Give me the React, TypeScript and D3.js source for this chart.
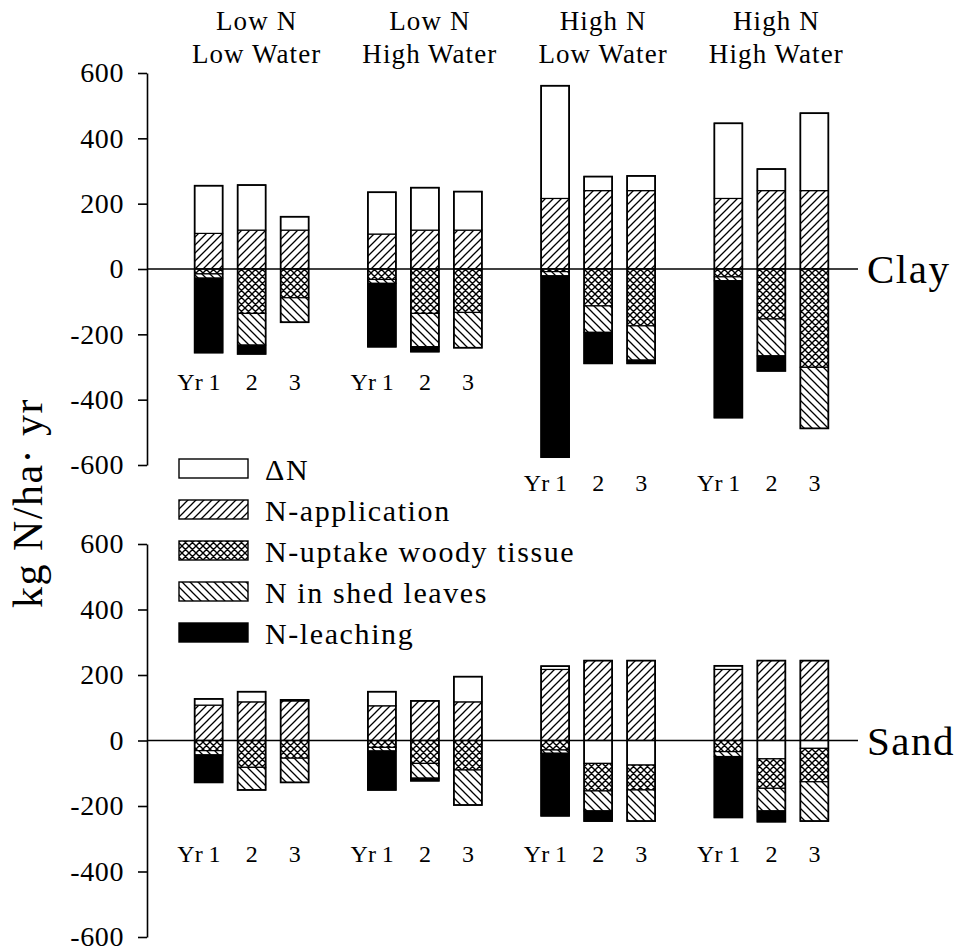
import React, { useEffect, useRef } from "react";
import * as d3 from "d3";

// ---------- data ----------
const groupsTop = ["Low N", "Low N", "High N", "High N"];
const groupsBottom = ["Low Water", "High Water", "Low Water", "High Water"];
const years = ["Yr 1", "2", "3"];
const seriesNames = ["ΔN", "N-application", "N-uptake woody tissue", "N in shed leaves", "N-leaching"];
const yTicks = [-600, -400, -200, 0, 200, 400, 600];

// Clay (12 bars: 4 treatments x 3 years)
const clayApplication = [109, 119, 119, 107, 119, 119, 216, 240, 240, 216, 240, 240];
const clayDeltaN = [146, 138, 41, 128, 130, 118, 345, 43, 45, 230, 66, 237];
const clayUptake = [-15, -136, -88, -32, -136, -133, -8, -113, -174, -24, -153, -301];
const clayShed = [-13, -97, -75, -12, -102, -108, -13, -81, -105, -12, -113, -187];
const clayLeaching = [-228, -27, 0, -194, -15, 0, -555, -95, -10, -419, -46, 0];
const clayYearLabelLevel = [-370, -370, -680, -680];

// Sand
const sandApplication = [108, 118, 121, 106, 121, 118, 217, 244, 244, 217, 244, 244];
const sandDeltaN = [19, 31, 3, 43, 0, 77, 10, -70, -75, 11, -56, -24];
const sandUptake = [-31, -82, -54, -21, -70, -90, -29, -84, -76, -34, -90, -102];
const sandShed = [-13, -69, -74, -11, -45, -107, -10, -61, -95, -15, -69, -120];
const sandLeaching = [-84, 0, 0, -119, -8, 0, -191, -31, 0, -186, -33, 0];
const sandYearLabelLevel = [-370, -370, -370, -370];

const FONT = "'Liberation Serif', 'Times New Roman', serif";

const fills = ["#ffffff", "url(#pApp)", "url(#pCross)", "url(#pShed)", "#000000"];

type Seg = { s: number; y0: number; y1: number };

function buildSegments(app: number[], dn: number[], up: number[], shed: number[], leach: number[]) {
  return app.map((a, i) => {
    const segs: Seg[] = [];
    segs.push({ s: 1, y0: 0, y1: a });
    let neg = 0;
    if (dn[i] > 0) segs.push({ s: 0, y0: a, y1: a + dn[i] });
    else if (dn[i] < 0) {
      segs.push({ s: 0, y0: 0, y1: dn[i] });
      neg = dn[i];
    }
    [up[i], shed[i], leach[i]].forEach((v, k) => {
      if (v < 0) {
        segs.push({ s: 2 + k, y0: neg, y1: neg + v });
        neg += v;
      }
    });
    return segs;
  });
}

const claySegs = buildSegments(clayApplication, clayDeltaN, clayUptake, clayShed, clayLeaching);
const sandSegs = buildSegments(sandApplication, sandDeltaN, sandUptake, sandShed, sandLeaching);

const xGroup = d3.scaleBand<number>().domain([0, 1, 2, 3]).range([165, 858]);
const xYear = d3.scalePoint<string>().domain(years).range([-43, 43]);
const BAR_W = 28;

const yClay = d3.scaleLinear().domain([-600, 600]).range([465, 73]);
const ySand = d3.scaleLinear().domain([-600, 600]).range([937, 544]);

function barCenter(i: number) {
  const g = Math.floor(i / 3);
  return (xGroup(g) as number) + xGroup.bandwidth() / 2 + (xYear(years[i % 3]) as number);
}

function Panel({ segs, y, name, labelLevels }: { segs: Seg[][]; y: d3.ScaleLinear<number, number>; name: string; labelLevels: number[] }) {
  const axisRef = useRef<SVGGElement>(null);
  useEffect(() => {
    if (!axisRef.current) return;
    const g = d3.select(axisRef.current);
    g.call(
      d3
        .axisLeft(y)
        .tickValues(yTicks)
        .tickFormat((d) => String(d))
        .tickSize(9)
        .tickSizeOuter(0)
        .tickPadding(14)
    );
    g.attr("font-family", FONT);
    g.selectAll("path.domain").attr("stroke", "#000").attr("stroke-width", 1.6);
    g.selectAll(".tick line").attr("stroke", "#000").attr("stroke-width", 1.6);
    g.selectAll(".tick text")
      .attr("font-family", FONT)
      .attr("font-size", 28)
      .attr("letter-spacing", 0.6)
      .attr("fill", "#000");
  }, [y]);

  const x0 = 147;
  const zeroY = y(0);

  return (
    <g>
      <g ref={axisRef} transform={`translate(${x0},0)`} />
      {segs.map((bar, i) => {
        const cx = barCenter(i);
        const top = Math.max(...bar.map((s) => Math.max(s.y0, s.y1)));
        const bot = Math.min(...bar.map((s) => Math.min(s.y0, s.y1)));
        return (
          <g key={i}>
            {bar.map((s, k) => (
              <rect
                key={k}
                x={cx - BAR_W / 2}
                y={y(Math.max(s.y0, s.y1))}
                width={BAR_W}
                height={Math.abs(y(s.y0) - y(s.y1))}
                fill={fills[s.s]}
                stroke="#000"
                strokeWidth={1.2}
              />
            ))}
            <rect x={cx - BAR_W / 2} y={y(top)} width={BAR_W} height={y(bot) - y(top)} fill="none" stroke="#000" strokeWidth={1.7} />
          </g>
        );
      })}
      <line x1={x0} x2={858} y1={zeroY} y2={zeroY} stroke="#000" strokeWidth={1.6} />
      <text x={867} y={zeroY + 14} fontFamily={FONT} fontSize={41} letterSpacing={1.5} fill="#000">
        {name}
      </text>
      {[0, 1, 2, 3].map((g) => {
        const ly = y(labelLevels[g]);
        return years.map((yr, k) => {
          const cx = barCenter(g * 3 + k);
          return (
            <text
              key={`${g}-${k}`}
              x={k === 0 ? cx + 12 : cx}
              y={ly}
              textAnchor={k === 0 ? "end" : "middle"}
              fontFamily={FONT}
              fontSize={24}
              fill="#000"
            >
              {yr}
            </text>
          );
        });
      })}
    </g>
  );
}

export default function App() {
  const legendY = [459, 500, 541, 582, 623];
  return (
    <svg width={962} height={951} style={{ position: "absolute", left: 0, top: 0, background: "#fff" }}>
      <defs>
        <pattern id="pApp" patternUnits="userSpaceOnUse" width={8} height={8}>
          <rect width={8} height={8} fill="#fff" />
          <path d="M-1,1 l2,-2 M0,8 l8,-8 M7,9 l2,-2" stroke="#000" strokeWidth={1.3} />
        </pattern>
        <pattern id="pShed" patternUnits="userSpaceOnUse" width={8} height={8}>
          <rect width={8} height={8} fill="#fff" />
          <path d="M-1,7 l2,2 M0,0 l8,8 M7,-1 l2,2" stroke="#000" strokeWidth={1.3} />
        </pattern>
        <pattern id="pCross" patternUnits="userSpaceOnUse" width={7} height={7}>
          <rect width={7} height={7} fill="#fff" />
          <path d="M-1,1 l2,-2 M0,7 l7,-7 M6,8 l2,-2 M-1,6 l2,2 M0,0 l7,7 M6,-1 l2,2" stroke="#000" strokeWidth={1.4} />
        </pattern>
      </defs>
      <rect width={962} height={951} fill="#fff" />

      {/* headers */}
      {[0, 1, 2, 3].map((g) => {
        const cx = (xGroup(g) as number) + xGroup.bandwidth() / 2 + 5;
        return (
          <g key={g}>
            <text x={cx} y={30} textAnchor="middle" fontFamily={FONT} fontSize={27} letterSpacing={1.1} fill="#000">
              {groupsTop[g]}
            </text>
            <text x={cx} y={63} textAnchor="middle" fontFamily={FONT} fontSize={27} letterSpacing={1.1} fill="#000">
              {groupsBottom[g]}
            </text>
          </g>
        );
      })}

      <Panel segs={claySegs} y={yClay} name="Clay" labelLevels={clayYearLabelLevel} />
      <Panel segs={sandSegs} y={ySand} name="Sand" labelLevels={sandYearLabelLevel} />

      {/* legend */}
      {seriesNames.map((n, i) => (
        <g key={n}>
          <rect x={179} y={legendY[i]} width={69} height={19} fill={fills[i]} stroke="#000" strokeWidth={1.4} />
          <text x={265} y={legendY[i] + 21} fontFamily={FONT} fontSize={30} letterSpacing={1.6} fill="#000">
            {n}
          </text>
        </g>
      ))}

      {/* y label */}
      <text
        transform="translate(42,503) rotate(-90)"
        textAnchor="middle"
        fontFamily={FONT}
        fontSize={42}
        letterSpacing={1.5}
        fill="#000"
      >
        kg N/ha· yr
      </text>
    </svg>
  );
}
